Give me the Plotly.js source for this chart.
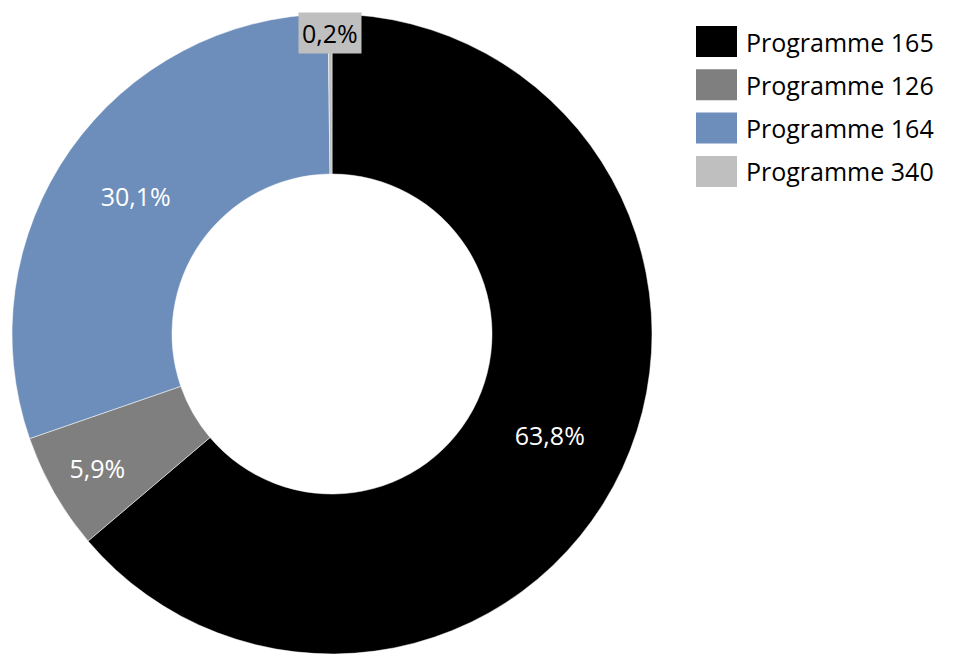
<!DOCTYPE html>
<html>
<head>
<meta charset="utf-8">
<script src="https://cdn.plot.ly/plotly-3.0.1.min.js"></script>
<style>html,body{margin:0;padding:0;background:#fff;}#chart{width:954px;height:665px;}</style>
</head>
<body>
<div id="chart"></div>
<script>
const categories = ["Programme 165", "Programme 126", "Programme 164", "Programme 340"];
const values = [63.8, 5.9, 30.1, 0.2];
const colors = ["#000000", "#7F7F7F", "#6D8EBA", "#BFBFBF"];
const textColors = ["#FFFFFF", "#FFFFFF", "#FFFFFF", "#000000"];

const W = 954, H = 665;
const FONT = "Open Sans, sans-serif";
const fmt = v => v.toFixed(1).replace(".", ",") + "%";

const trace = {
  type: "pie",
  labels: categories,
  values: values,
  sort: false,
  direction: "clockwise",
  rotation: 0,
  hole: 0.5,
  marker: {colors: colors, line: {color: "#FFFFFF", width: 0.5}},
  text: values.map(fmt),
  textinfo: "text",
  textposition: ["inside", "inside", "inside", "none"],
  insidetextorientation: "horizontal",
  insidetextfont: {family: FONT, size: 25, color: textColors},
  showlegend: false,
  domain: {x: [12 / W, 652 / W], y: [1 - 654 / H, 1 - 14 / H]},
  hoverinfo: "label+percent"
};

const shapes = [], annotations = [];
const legX = 696, legY0 = 26, legStep = 43.3, boxW = 41, boxH = 31;
categories.forEach((c, i) => {
  const top = legY0 + i * legStep;
  shapes.push({type: "rect", xref: "paper", yref: "paper",
    x0: legX / W, x1: (legX + boxW) / W, y0: 1 - (top + boxH) / H, y1: 1 - top / H,
    fillcolor: colors[i], line: {width: 0}});
  annotations.push({xref: "paper", yref: "paper", x: 744 / W, y: 1 - (top + boxH / 2) / H,
    xanchor: "left", yanchor: "middle", showarrow: false, text: c,
    font: {family: FONT, size: 25, color: "#000000"}});
});
// small slice label with grey background
annotations.push({xref: "paper", yref: "paper", x: 330 / W, y: 1 - 33 / H,
  xanchor: "center", yanchor: "middle", showarrow: false, text: fmt(values[3]),
  bgcolor: colors[3], borderpad: 3,
  font: {family: FONT, size: 25, color: textColors[3]}});

Plotly.newPlot("chart", [trace], {
  width: W, height: H,
  margin: {l: 0, r: 0, t: 0, b: 0},
  paper_bgcolor: "#FFFFFF",
  shapes: shapes,
  annotations: annotations
}, {displayModeBar: false, staticPlot: true});
</script>
</body>
</html>
